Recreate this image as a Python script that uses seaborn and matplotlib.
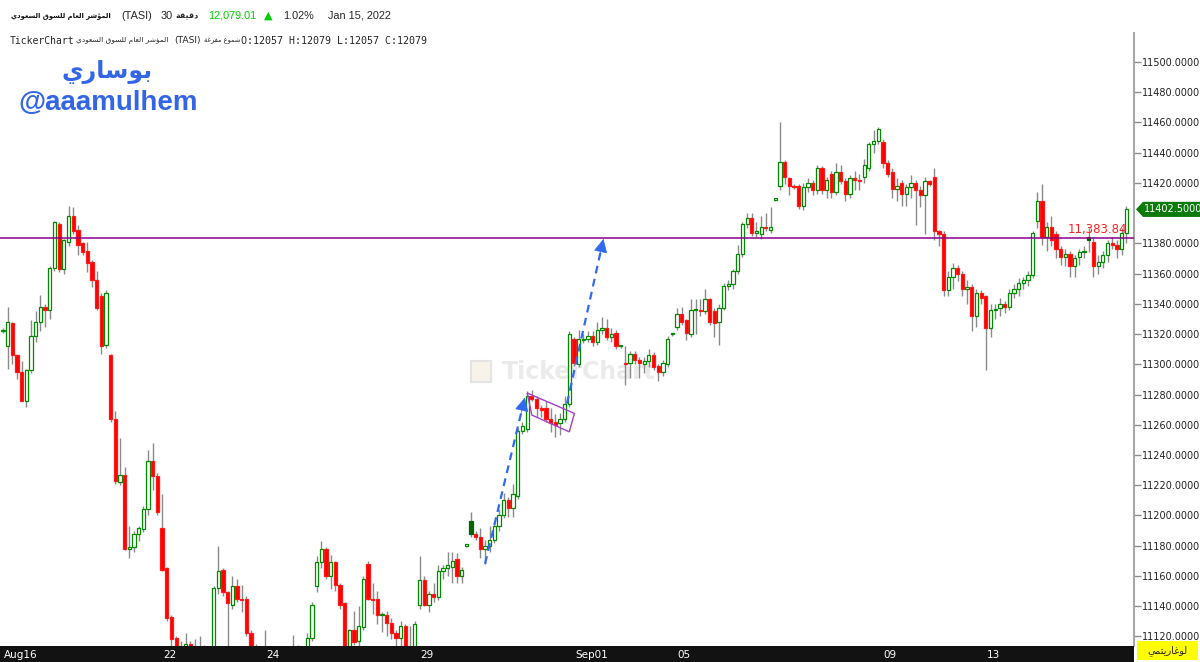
import numpy as np
import pandas as pd
import matplotlib
matplotlib.use('Agg')
import matplotlib.pyplot as plt
import matplotlib.transforms as mtransforms
from matplotlib.patches import Rectangle, Polygon
import seaborn as sns

# 30 min candles, TASI, Aug 16 - Sep 15 2021
opens = [11322, 11312, 11327, 11306, 11295, 11276, 11296, 11319, 11328, 11338,
         11336, 11364, 11393, 11363, 11381, 11398, 11389, 11380, 11375, 11368,
         11356, 11345, 11313, 11306, 11264, 11222, 11227, 11178, 11179, 11188,
         11191, 11204, 11236, 11226, 11192, 11165, 11133, 11119, 11108, 11102,
         11115, 11110, 11104, 11112, 11100, 11105, 11152, 11164, 11149, 11141,
         11153, 11145, 11145, 11122, 11110, 11100, 11095, 11106, 11098, 11092,
         11096, 11100, 11098, 11104, 11108, 11106, 11119, 11153, 11169, 11178,
         11160, 11169, 11154, 11142, 11112, 11124, 11117, 11126, 11168, 11145,
         11145, 11134, 11134, 11129, 11122, 11119, 11127, 11105, 11110, 11141,
         11157, 11141, 11148, 11146, 11163, 11165, 11166, 11171, 11160, 11180,
         11196, 11188, 11186, 11178, 11180, 11184, 11193, 11200, 11210, 11205,
         11213, 11256, 11257, 11279, 11277, 11271, 11271, 11264, 11262, 11261,
         11264, 11274, 11317, 11300, 11316, 11317, 11319, 11315, 11323, 11324,
         11318, 11321, 11312, 11301, 11301, 11307, 11303, 11300, 11302, 11306,
         11299, 11295, 11300, 11320, 11325, 11333, 11329, 11320, 11336, 11336,
         11335, 11343, 11335, 11328, 11337, 11352, 11353, 11362, 11373, 11393,
         11397, 11387, 11386, 11391, 11389, 11409, 11418, 11434, 11423, 11418,
         11418, 11405, 11417, 11420, 11415, 11430, 11415, 11426, 11414, 11427,
         11421, 11413, 11423, 11422, 11424, 11430, 11446, 11448, 11447, 11433,
         11427, 11416, 11420, 11413, 11417, 11420, 11415, 11412, 11421, 11424,
         11388, 11386, 11349, 11358, 11364, 11360, 11350, 11351, 11332, 11347,
         11345, 11324, 11336, 11337, 11340, 11338, 11347, 11350, 11354, 11356,
         11359, 11395, 11408, 11384, 11391, 11386, 11376, 11371, 11373, 11365,
         11371, 11374, 11384, 11381, 11365, 11368, 11372, 11380, 11379, 11376, 11387]
highs = [11324, 11338, 11328, 11307, 11302, 11297, 11329, 11335, 11346, 11340,
         11365, 11395, 11394, 11383, 11405, 11404, 11392, 11381, 11381, 11369,
         11362, 11347, 11349, 11307, 11269, 11251, 11232, 11193, 11190, 11193,
         11206, 11243, 11248, 11228, 11214, 11166, 11134, 11120, 11117, 11122,
         11117, 11118, 11120, 11114, 11110, 11153, 11180, 11165, 11150, 11160,
         11158, 11154, 11147, 11124, 11115, 11108, 11124, 11110, 11105, 11100,
         11104, 11106, 11121, 11114, 11112, 11122, 11143, 11173, 11183, 11179,
         11174, 11170, 11155, 11143, 11125, 11137, 11140, 11160, 11170, 11155,
         11150, 11136, 11137, 11132, 11124, 11130, 11128, 11127, 11130, 11173,
         11160, 11150, 11155, 11167, 11167, 11176, 11176, 11175, 11166, 11181,
         11202, 11190, 11192, 11184, 11193, 11195, 11204, 11215, 11212, 11221,
         11258, 11262, 11282, 11283, 11279, 11273, 11276, 11271, 11267, 11268,
         11279, 11322, 11318, 11323, 11320, 11322, 11322, 11328, 11331, 11330,
         11324, 11323, 11313, 11312, 11309, 11309, 11305, 11305, 11310, 11308,
         11300, 11303, 11319, 11321, 11337, 11338, 11330, 11343, 11343, 11343,
         11350, 11344, 11337, 11340, 11354, 11356, 11363, 11379, 11394, 11400,
         11400, 11394, 11398, 11400, 11404, 11410, 11460, 11435, 11424, 11419,
         11419, 11420, 11423, 11422, 11432, 11431, 11424, 11428, 11433, 11432,
         11423, 11425, 11428, 11426, 11436, 11447, 11455, 11457, 11449, 11435,
         11430, 11423, 11422, 11419, 11425, 11422, 11418, 11424, 11422, 11430,
         11389, 11388, 11362, 11367, 11366, 11362, 11356, 11353, 11350, 11349,
         11346, 11340, 11340, 11344, 11342, 11350, 11353, 11357, 11358, 11362,
         11388, 11414, 11419, 11394, 11398, 11388, 11378, 11376, 11375, 11372,
         11376, 11378, 11390, 11384, 11372, 11375, 11382, 11384, 11382, 11390, 11405]
lows = [11321, 11297, 11300, 11290, 11276, 11272, 11294, 11315, 11322, 11325,
        11330, 11362, 11361, 11360, 11378, 11386, 11372, 11372, 11361, 11351,
        11336, 11307, 11311, 11262, 11221, 11220, 11177, 11172, 11176, 11183,
        11189, 11200, 11217, 11200, 11163, 11130, 11110, 11104, 11098, 11099,
        11105, 11100, 11098, 11096, 11092, 11100, 11148, 11147, 11108, 11138,
        11143, 11136, 11120, 11100, 11095, 11090, 11092, 11094, 11088, 11085,
        11090, 11094, 11095, 11100, 11098, 11104, 11117, 11149, 11165, 11158,
        11151, 11150, 11138, 11108, 11105, 11114, 11112, 11124, 11144, 11135,
        11128, 11123, 11120, 11118, 11112, 11112, 11100, 11095, 11105, 11138,
        11140, 11136, 11143, 11144, 11158, 11160, 11155, 11155, 11155, 11179,
        11186, 11184, 11172, 11168, 11176, 11182, 11190, 11198, 11199, 11199,
        11211, 11254, 11255, 11276, 11265, 11265, 11262, 11255, 11252, 11253,
        11262, 11272, 11299, 11298, 11314, 11315, 11312, 11313, 11320, 11316,
        11315, 11310, 11311, 11286, 11291, 11300, 11291, 11294, 11298, 11296,
        11289, 11292, 11298, 11319, 11323, 11326, 11316, 11318, 11320, 11332,
        11333, 11326, 11318, 11313, 11336, 11349, 11350, 11360, 11371, 11390,
        11385, 11384, 11383, 11388, 11387, 11408, 11415, 11419, 11412, 11416,
        11403, 11402, 11414, 11412, 11413, 11413, 11410, 11410, 11412, 11419,
        11408, 11410, 11415, 11415, 11420, 11428, 11440, 11446, 11430, 11424,
        11410, 11408, 11405, 11405, 11410, 11392, 11404, 11386, 11418, 11382,
        11378, 11345, 11345, 11350, 11355, 11345, 11340, 11322, 11325, 11340,
        11296, 11318, 11330, 11332, 11334, 11336, 11344, 11345, 11350, 11352,
        11357, 11390, 11379, 11375, 11378, 11370, 11366, 11365, 11358, 11358,
        11366, 11370, 11374, 11358, 11360, 11364, 11368, 11376, 11370, 11372, 11380]
closes = [11323, 11328, 11306, 11295, 11276, 11296, 11319, 11328, 11338, 11336,
          11364, 11394, 11363, 11382, 11398, 11388, 11379, 11374, 11367, 11356,
          11337, 11312, 11347, 11264, 11223, 11227, 11178, 11179, 11188, 11192,
          11204, 11236, 11226, 11202, 11164, 11132, 11118, 11108, 11102, 11115,
          11110, 11104, 11112, 11100, 11105, 11152, 11163, 11149, 11142, 11153,
          11145, 11144, 11122, 11110, 11100, 11095, 11106, 11098, 11092, 11096,
          11100, 11098, 11104, 11108, 11106, 11119, 11141, 11169, 11178, 11160,
          11169, 11154, 11141, 11112, 11124, 11116, 11127, 11158, 11145, 11144,
          11134, 11135, 11129, 11122, 11119, 11127, 11105, 11110, 11128, 11157,
          11141, 11148, 11146, 11163, 11165, 11167, 11170, 11160, 11164, 11180,
          11188, 11186, 11178, 11180, 11184, 11193, 11200, 11210, 11205, 11214,
          11256, 11259, 11279, 11277, 11271, 11270, 11264, 11261, 11260, 11264,
          11274, 11320, 11301, 11317, 11317, 11319, 11315, 11323, 11324, 11318,
          11320, 11312, 11312, 11300, 11307, 11303, 11301, 11302, 11306, 11298,
          11295, 11301, 11317, 11320, 11333, 11328, 11321, 11336, 11336, 11335,
          11343, 11328, 11327, 11337, 11352, 11353, 11362, 11373, 11393, 11397,
          11387, 11387, 11391, 11390, 11391, 11409, 11434, 11424, 11418, 11417,
          11405, 11417, 11420, 11415, 11430, 11415, 11422, 11414, 11427, 11421,
          11413, 11423, 11422, 11421, 11432, 11446, 11448, 11456, 11433, 11426,
          11416, 11418, 11413, 11417, 11420, 11415, 11412, 11421, 11419, 11388,
          11386, 11349, 11358, 11364, 11360, 11350, 11351, 11332, 11347, 11344,
          11324, 11336, 11336, 11340, 11338, 11347, 11350, 11354, 11356, 11359,
          11387, 11408, 11384, 11391, 11382, 11376, 11371, 11373, 11365, 11370,
          11374, 11375, 11382, 11365, 11368, 11372, 11380, 11379, 11376, 11387, 11402.5]

day_ticks = [0, 34, 56, 89, 122, 144, 188, 210]
day_labels = ['Aug16', '22', '24', '29', 'Sep01', '05', '09', '13']
# 11400 sits under the last-price tag, so it has no label
price_ticks = [11120, 11140, 11160, 11180, 11200, 11220, 11240, 11260, 11280, 11300,
               11320, 11340, 11360, 11380, 11420, 11440, 11460, 11480, 11500]
level = 11383.84
last_price = 11402.5
arrow1 = [(103, 11168), (111.5, 11278)]
arrow2 = [(120.5, 11274), (128.3, 11383)]
flag_box = [(112.0, 11281), (122.1, 11267.5), (121.0, 11255.3), (113.0, 11266.4)]

# tiny arabic shaper: presentation forms, visual order
FORMS = {
    'ا': ('\uFE8D', '\uFE8E', None, None),
    'ب': ('\uFE8F', '\uFE90', '\uFE91', '\uFE92'),
    'ة': ('\uFE93', '\uFE94', None, None),
    'ت': ('\uFE95', '\uFE96', '\uFE97', '\uFE98'),
    'د': ('\uFEA9', '\uFEAA', None, None),
    'ر': ('\uFEAD', '\uFEAE', None, None),
    'س': ('\uFEB1', '\uFEB2', '\uFEB3', '\uFEB4'),
    'ش': ('\uFEB5', '\uFEB6', '\uFEB7', '\uFEB8'),
    'ع': ('\uFEC9', '\uFECA', '\uFECB', '\uFECC'),
    'غ': ('\uFECD', '\uFECE', '\uFECF', '\uFED0'),
    'ف': ('\uFED1', '\uFED2', '\uFED3', '\uFED4'),
    'ق': ('\uFED5', '\uFED6', '\uFED7', '\uFED8'),
    'ل': ('\uFEDD', '\uFEDE', '\uFEDF', '\uFEE0'),
    'م': ('\uFEE1', '\uFEE2', '\uFEE3', '\uFEE4'),
    'و': ('\uFEED', '\uFEEE', None, None),
    'ؤ': ('\uFE85', '\uFE86', None, None),
    'ي': ('\uFEF1', '\uFEF2', '\uFEF3', '\uFEF4'),
}


def ar(text):
    out = []
    for i, ch in enumerate(text):
        if ch not in FORMS:
            out.append(ch)
            continue
        prev = text[i - 1] if i > 0 else ''
        nxt = text[i + 1] if i + 1 < len(text) else ''
        jp = prev in FORMS and FORMS[prev][2] is not None
        jn = nxt in FORMS and FORMS[ch][2] is not None
        iso, fin, ini, med = FORMS[ch]
        out.append(med if jp and jn else fin if jp else ini if jn else iso)
    return ''.join(out[::-1])


df = pd.DataFrame({'open': opens, 'high': highs, 'low': lows, 'close': closes})
df['x'] = np.arange(len(df))
df['prev'] = df['close'].shift(1).fillna(df['open'])
df['up'] = df['close'] >= df['prev']
df['filled'] = df['close'] < df['open']
df['bottom'] = df[['open', 'close']].min(axis=1)
df['height'] = (df['close'] - df['open']).abs().clip(lower=0.9)

face, edge = [], []
for up, filled in zip(df.up, df.filled):
    if up and filled:
        face.append('#006400'); edge.append('#006400')
    elif up:
        face.append('white'); edge.append('#008a00')
    else:
        face.append('#ff0000'); edge.append('#ff1a1a')

sns.set_style('white')
plt.rcParams['font.family'] = ['DejaVu Sans']

W, H = 1200, 662
fig = plt.figure(figsize=(12, 6.62), dpi=100)
ax = fig.add_axes([0, 16 / H, 1134 / W, 613 / H])

ax.vlines(df.x, df.low, df.high, colors='#8a8a8a', lw=1.0, zorder=2)
ax.bar(df.x, df.height, bottom=df.bottom, width=0.7, color=face,
       edgecolor=edge, linewidth=0.9, zorder=3)

ax.axhline(level, color='#8b008b', lw=1.1, zorder=4)
ax.text(240.2, level + 1.2, '11,383.84', color='#ff2020', fontsize=8.5,
        ha='right', va='bottom', zorder=5)

# watermark
ax.text(0.51, 0.447, 'TickerChart', transform=ax.transAxes, fontsize=17,
        fontweight='bold', color='#ebebeb', ha='center', va='center', zorder=1)
ax.add_patch(Rectangle((0.415, 0.43), 0.018, 0.035, transform=ax.transAxes,
                       facecolor='#f8f3ea', edgecolor='#e4e4e4', lw=1.5, zorder=1))

# blue dashed arrows
for a in (arrow1, arrow2):
    (x0, y0), (x1, y1) = a
    ax.plot([x0, x1 - 0.03 * (x1 - x0)], [y0, y1 - 0.03 * (y1 - y0)],
            ls=(0, (3.5, 2.5)), color='#2f6af0', lw=1.6, zorder=6)
    ax.annotate('', xy=(x1, y1), xytext=(x1 - (x1 - x0) * 0.12, y1 - (y1 - y0) * 0.12),
                arrowprops=dict(arrowstyle='-|>', color='#2f6af0', lw=0.5,
                                mutation_scale=22, shrinkA=0, shrinkB=0), zorder=6)

ax.add_patch(Polygon(flag_box, closed=True, fill=False, edgecolor='#a640c8',
                     lw=1.0, zorder=6))

ax.set_xlim(-0.64, 241.66)
ax.set_ylim(11113.6, 11519.2)
ax.yaxis.tick_right()
ax.set_yticks(price_ticks)
ax.set_yticklabels([f'{v:.4f}' for v in price_ticks])
ax.tick_params(axis='y', length=5, width=1, color='#8c8c8c', pad=1,
               labelsize=7, labelcolor='#222222')
ax.set_xticks(day_ticks)
ax.tick_params(axis='x', direction='in', length=5, color='#b0b0b0', labelbottom=False)
for s in ['top', 'left', 'bottom']:
    ax.spines[s].set_visible(False)
ax.spines['right'].set_color('#a8a8a8')
ax.spines['right'].set_linewidth(1.5)

# black date band
axb = fig.add_axes([0, 0, 1134 / W, 16 / H])
axb.set_facecolor('#121212')
axb.set_xlim(ax.get_xlim())
axb.set_ylim(0, 1)
axb.set_xticks([])
axb.set_yticks([])
for s in axb.spines.values():
    s.set_visible(False)
for t, lab in zip(day_ticks, day_labels):
    axb.text(t + 0.2, 0.45, lab, color='white', fontsize=7.5, ha='left', va='center')

# last price tag
tr = mtransforms.blended_transform_factory(fig.transFigure, ax.transData)
tag = [(1136 / W, last_price), (1143 / W, last_price + 5), (1.0, last_price + 5),
       (1.0, last_price - 5), (1143 / W, last_price - 5)]
fig.patches.append(Polygon(tag, closed=True, transform=tr, facecolor='#0b7a0b',
                           edgecolor='none'))
fig.text(1144 / W, last_price, '11402.5000', transform=tr, color='white', fontsize=7,
         va='center', ha='left')

# log scale button
fig.patches.append(Rectangle((1137 / W, 2 / H), 61 / W, 19 / H, transform=fig.transFigure,
                             facecolor='#ffff00', edgecolor='none'))
fig.text(1167 / W, 11 / H, ar('لوغاريتمي'), fontsize=7, ha='center', va='center')


def fx(x):
    return x / W


def fy(y):
    return 1 - y / H


# header line 1
fig.text(fx(11), fy(16), ar('المؤشر العام للسوق السعودي'), fontsize=4.9,
         fontweight='bold', va='center', color='#111111')
fig.text(fx(121), fy(16), '(TASI)', family='Liberation Sans', fontsize=7.8, va='center')
fig.text(fx(161), fy(16), '30', family='Liberation Sans', fontsize=7.8, va='center')
fig.text(fx(175), fy(16), ar('دقيقة'), fontsize=5.8, fontweight='bold', va='center')
fig.text(fx(208), fy(16), '12,079.01', family='Liberation Sans', fontsize=7.8,
         va='center', color='#00cc00')
fig.text(fx(264), fy(16), '▲', fontsize=8, va='center', color='#00cc00')
fig.text(fx(283), fy(16), '1.02%', family='Liberation Sans', fontsize=7.8, va='center')
fig.text(fx(328), fy(16), 'Jan 15, 2022', family='Liberation Sans', fontsize=7.8, va='center')

# header line 2
fig.text(fx(10), fy(41), 'TickerChart', family='DejaVu Sans Mono', fontsize=7, va='center')
fig.text(fx(76), fy(41), ar('المؤشر العام للسوق السعودي'), fontsize=5.3, va='center')
fig.text(fx(174), fy(41), '(TASI)', fontsize=6.6, va='center')
fig.text(fx(204), fy(41), ar('شموع مفرغة'), fontsize=4.8, va='center')
fig.text(fx(241), fy(41), 'O:12057 H:12079 L:12057 C:12079', family='DejaVu Sans Mono',
         fontsize=7.2, va='center')

# author mark
fig.text(fx(107), fy(72), ar('بوساري'), fontsize=17, fontweight='bold',
         color='#3366e6', ha='center', va='center')
fig.text(fx(108), fy(103), '@aaamulhem', family='Liberation Sans', fontsize=20,
         fontweight='bold', color='#3366e6', ha='center', va='center')

fig.savefig('out.png', dpi=100)
